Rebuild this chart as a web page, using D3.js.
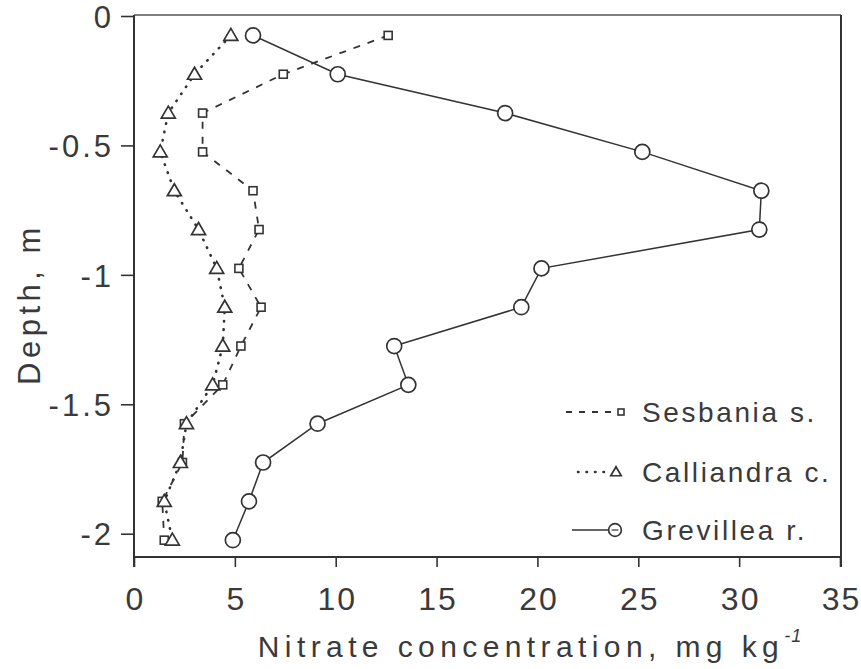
<!DOCTYPE html>
<html><head><meta charset="utf-8">
<script src="https://cdn.jsdelivr.net/npm/d3@7"></script>
<style>
html,body{margin:0;padding:0;background:#fff;}
svg{display:block;}
text{font-family:"Liberation Sans",Arial,sans-serif;fill:#3a3a3a;}
</style></head>
<body><svg id="chart" width="861" height="669"></svg>
<script>
// ---- data ----
const depths = [-0.075,-0.225,-0.375,-0.525,-0.675,-0.825,-0.975,-1.125,-1.275,-1.425,-1.575,-1.725,-1.875,-2.025];
const sesbania   = [12.6,7.4,3.4,3.4,5.9,6.2,5.2,6.3,5.3,4.4,2.5,2.4,1.4,1.5];
const calliandra = [4.8,3.0,1.7,1.3,2.0,3.2,4.1,4.5,4.4,3.9,2.6,2.3,1.5,1.9];
const grevillea  = [5.9,10.1,18.4,25.2,31.1,31.0,20.2,19.2,12.9,13.6,9.1,6.4,5.7,4.9];
const seriesNames = ["Sesbania s.","Calliandra c.","Grevillea r."];
const xTicks = [0,5,10,15,20,25,30,35];
const yTicks = [0,-0.5,-1,-1.5,-2];
const xTitle = "Nitrate concentration, mg kg";
const xTitleSup = "-1";
const yTitle = "Depth, m";

const svg = d3.select("#chart");
const ink = "#333";
const x = d3.scaleLinear().domain([0,35]).range([134,840]);
const y = d3.scaleLinear().domain([0,-2.09]).range([16,557]);

// frame (top + right)
svg.append("line").attr("x1",x(0)).attr("x2",x(35)+1).attr("y1",y(0)-1).attr("y2",y(0)-1)
  .attr("stroke","#555").attr("stroke-width",1.4);
svg.append("line").attr("x1",x(35)+1).attr("x2",x(35)+1).attr("y1",y(0)-1).attr("y2",y(-2.09)+10)
  .attr("stroke",ink).attr("stroke-width",2);

// axes
const xAxis = svg.append("g").attr("transform",`translate(0,${y(-2.09)})`)
  .call(d3.axisBottom(x).tickValues(xTicks).tickSize(10).tickPadding(20).tickFormat(d3.format("d")));
const yAxis = svg.append("g").attr("transform",`translate(${x(0)},0)`)
  .call(d3.axisLeft(y).tickValues(yTicks).tickSize(13).tickPadding(7).tickFormat(d=>d===0?"0":String(d)));
[xAxis,yAxis].forEach(g=>{
  g.select(".domain").attr("stroke",ink).attr("stroke-width",2);
  g.selectAll(".tick line").attr("stroke",ink).attr("stroke-width",1.6);
  g.selectAll("text").style("font-family","'Liberation Sans',Arial,sans-serif").attr("fill","#3a3a3a");
});
xAxis.selectAll("text").style("font-size","32px").style("letter-spacing","2px").attr("dx","1px");
yAxis.selectAll("text").style("font-size","31px").style("letter-spacing","3px").attr("dy","0.36em");
xAxis.select(".domain").attr("d",`M${x(0)},0H${x(35)+1}`);
yAxis.select(".domain").attr("d",`M0,${y(0)-1}V${y(-2.09)+10}`);

// titles
const xt = svg.append("text").attr("x",530).attr("y",657)
  .attr("text-anchor","middle").style("font-size","30px").style("letter-spacing","5.4px");
xt.append("tspan").text(xTitle);
xt.append("tspan").attr("dy",-15).style("font-size","18px").style("font-style","italic").style("letter-spacing","1px").text(xTitleSup);
svg.append("text").attr("transform","translate(40,304) rotate(-90)")
  .attr("text-anchor","middle").style("font-size","31px").style("letter-spacing","4.5px").text(yTitle);

// lines
const line = d3.line().x(d=>x(d[0])).y(d=>y(d[1]));
const data = [sesbania,calliandra,grevillea].map(s=>s.map((v,i)=>[v,depths[i]]));
const styles = [
  {dash:"7,8", w:1.8, cap:"butt"},
  {dash:"0.5,8", w:2.6, cap:"round"},
  {dash:null, w:1.5, cap:"butt"}
];
data.forEach((d,i)=>{
  const p = svg.append("path").datum(d).attr("d",line).attr("fill","none")
    .attr("stroke",ink).attr("stroke-width",styles[i].w).attr("stroke-linecap",styles[i].cap);
  if(styles[i].dash) p.attr("stroke-dasharray",styles[i].dash);
});

// markers
function marker(g,type,cx,cy,s,bar){
  if(type===0){
    g.append("rect").attr("x",cx-4*s).attr("y",cy-4*s).attr("width",8*s).attr("height",8*s)
      .attr("fill","#fff").attr("stroke",ink).attr("stroke-width",1.6);
  } else if(type===1){
    g.append("path").attr("d",`M${cx},${cy-7*s}L${cx+7*s},${cy+5*s}L${cx-7*s},${cy+5*s}Z`)
      .attr("fill","#fff").attr("stroke",ink).attr("stroke-width",1.7);
  } else {
    g.append("circle").attr("cx",cx).attr("cy",cy).attr("r",7.5*s)
      .attr("fill","#fff").attr("stroke",ink).attr("stroke-width",1.7);
    if(bar) g.append("line").attr("x1",cx-4*s).attr("x2",cx+4*s).attr("y1",cy).attr("y2",cy)
      .attr("stroke",ink).attr("stroke-width",1.2);
  }
}
const mg = svg.append("g");
data.forEach((d,i)=>d.forEach(p=>marker(mg,i,x(p[0]),y(p[1]),1,false)));

// legend
const legY = [412,472,530];
const lg = svg.append("g");
seriesNames.forEach((name,i)=>{
  const mx = [621,616,615][i];
  const lx0 = [566,578,572][i];
  const ln = lg.append("line").attr("x1",lx0).attr("x2",mx-(i===2?7:5)).attr("y1",legY[i]).attr("y2",legY[i])
    .attr("stroke",ink).attr("stroke-width",styles[i].w).attr("stroke-linecap",styles[i].cap);
  if(styles[i].dash) ln.attr("stroke-dasharray",i===0?"6,7":styles[i].dash);
  marker(lg,i,mx,legY[i],i===2?0.85:0.75,true);
  lg.append("text").attr("x",642).attr("y",legY[i]).attr("dy","0.36em")
    .style("font-size","28px").style("letter-spacing","2.6px").text(name);
});
</script></body></html>
